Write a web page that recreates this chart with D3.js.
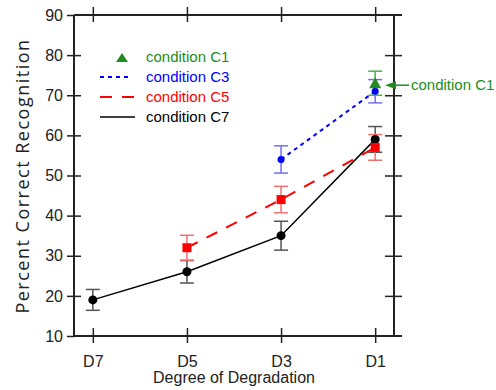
<!DOCTYPE html>
<html>
<head>
<meta charset="utf-8">
<script src="https://cdn.jsdelivr.net/npm/d3@7"></script>
<style>
  body { margin: 0; background: #fff; }
  svg { display: block; font-family: "Liberation Sans", Arial, sans-serif; }
</style>
</head>
<body>
<svg id="chart" width="496" height="390"></svg>
<script>
// degradation levels on the x axis
const levels = ['D7', 'D5', 'D3', 'D1'];
const yTicks = [10, 20, 30, 40, 50, 60, 70, 80, 90];

// mean percent correct and +/- error per condition
const c7Levels = ['D7', 'D5', 'D3', 'D1'];
const c7Values = [19, 26, 35, 59];
const c7Errors = [2.6, 2.8, 3.6, 3.2];

const c5Levels = ['D5', 'D3', 'D1'];
const c5Values = [32, 44, 57];
const c5Errors = [3.1, 3.3, 3.2];

const c3Levels = ['D3', 'D1'];
const c3Values = [54, 71];
const c3Errors = [3.4, 2.9];

const c1Levels = ['D1'];
const c1Values = [73];
const c1Errors = [3];

const legendLabels = ['condition C1', 'condition C3', 'condition C5', 'condition C7'];

const svg = d3.select('#chart');
const pLeft = 74, pRight = 394, pTop = 15, pBottom = 336;

const x = d3.scalePoint().domain(levels).range([pLeft, pRight]).padding(0.2);
const y = d3.scaleLinear().domain([10, 90]).range([pBottom, pTop]);

const toPoints = (lv, vals, errs) => lv.map((l, i) => ({ level: l, value: vals[i], err: errs[i] }));

const series = [
  { pts: toPoints(c7Levels, c7Values, c7Errors), color: '#000', errColor: '#555', dash: null, width: 1.5, marker: 'circle', r: 4.5 },
  { pts: toPoints(c5Levels, c5Values, c5Errors), color: '#ff0000', errColor: '#f07070', dash: '12,10', width: 2, marker: 'square', r: 4.5 },
  { pts: toPoints(c3Levels, c3Values, c3Errors), color: '#0000ff', errColor: '#7070ee', dash: '4,4', width: 2, marker: 'circle', r: 3.5 },
  { pts: toPoints(c1Levels, c1Values, c1Errors), color: '#228b22', errColor: '#4cae4c', dash: null, width: 0, marker: 'triangle', r: 5 }
];

// frame + crossing ticks
const axisColor = '#222';
const frame = svg.append('g').attr('stroke', axisColor).attr('stroke-width', 2).attr('fill', 'none');
frame.append('line').attr('x1', pLeft).attr('x2', pRight + 8).attr('y1', pTop).attr('y2', pTop);
frame.append('line').attr('x1', pLeft).attr('x2', pRight + 8).attr('y1', pBottom).attr('y2', pBottom);
frame.append('line').attr('x1', pLeft).attr('x2', pLeft).attr('y1', pTop).attr('y2', pBottom);
frame.append('line').attr('x1', pRight).attr('x2', pRight).attr('y1', pTop).attr('y2', pBottom);

const leftAxis = svg.append('g').attr('transform', `translate(${pLeft},0)`)
  .call(d3.axisLeft(y).tickValues(yTicks).tickSizeInner(7).tickSizeOuter(0).tickPadding(4));
leftAxis.selectAll('line').attr('x2', -7).attr('x1', (d) => (d === 10 || d === 90) ? 0 : 7);
const rightAxis = svg.append('g').attr('transform', `translate(${pRight},0)`)
  .call(d3.axisRight(y).tickValues(yTicks.slice(1, -1)).tickSizeOuter(0).tickFormat(''));
rightAxis.selectAll('line').attr('x1', -9).attr('x2', 8);
const bottomAxis = svg.append('g').attr('transform', `translate(0,${pBottom})`)
  .call(d3.axisBottom(x).tickSizeOuter(0).tickPadding(14));
bottomAxis.selectAll('line').attr('y1', -8).attr('y2', 7);
const topAxis = svg.append('g').attr('transform', `translate(0,${pTop})`)
  .call(d3.axisTop(x).tickSizeOuter(0).tickFormat(''));
topAxis.selectAll('line').attr('y1', 7).attr('y2', -8);

[leftAxis, rightAxis, bottomAxis, topAxis].forEach(a => {
  a.select('.domain').remove();
  a.selectAll('line').attr('stroke', axisColor).attr('stroke-width', 1.5);
  a.selectAll('text').attr('fill', '#222').style('font-size', '16px')
    .style('font-family', '"Liberation Sans", Arial, sans-serif');
});

// axis titles
svg.append('text')
  .attr('x', (pLeft + pRight) / 2).attr('y', 383)
  .attr('text-anchor', 'middle').attr('fill', '#222')
  .style('font-size', '16px')
  .text('Degree of Degradation');
svg.append('text')
  .attr('transform', 'translate(29,176) rotate(-90)')
  .attr('text-anchor', 'middle').attr('fill', '#222')
  .style('font-family', '"Open Sans", sans-serif').style('font-size', '18px')
  .style('letter-spacing', '1.5px')
  .text('Percent Correct Recognition');

// lines, error bars, markers
const line = d3.line().x(d => x(d.level)).y(d => y(d.value));
const cap = 7;
series.forEach(s => {
  if (s.width > 0 && s.pts.length > 1) {
    svg.append('path').datum(s.pts)
      .attr('d', line).attr('fill', 'none')
      .attr('stroke', s.color).attr('stroke-width', s.width)
      .attr('stroke-dasharray', s.dash);
  }
  const eb = svg.append('g').attr('stroke', s.errColor).attr('stroke-width', 1.5);
  s.pts.forEach(p => {
    const cx = x(p.level), y0 = y(p.value - p.err), y1 = y(p.value + p.err);
    eb.append('line').attr('x1', cx).attr('x2', cx).attr('y1', y0).attr('y2', y1);
    eb.append('line').attr('x1', cx - cap).attr('x2', cx + cap).attr('y1', y0).attr('y2', y0);
    eb.append('line').attr('x1', cx - cap).attr('x2', cx + cap).attr('y1', y1).attr('y2', y1);
  });
});
series.forEach(s => {
  s.pts.forEach(p => {
    const cx = x(p.level), cy = y(p.value);
    if (s.marker === 'circle') {
      svg.append('circle').attr('cx', cx).attr('cy', cy).attr('r', s.r).attr('fill', s.color);
    } else if (s.marker === 'square') {
      svg.append('rect').attr('x', cx - s.r).attr('y', cy - s.r)
        .attr('width', s.r * 2).attr('height', s.r * 2).attr('fill', s.color);
    } else {
      svg.append('path').attr('transform', `translate(${cx},${cy})`)
        .attr('d', `M0,${-s.r - 1}L${s.r + 1},${s.r}L${-s.r - 1},${s.r}Z`).attr('fill', s.color);
    }
  });
});

// legend
const legendColors = ['#228b22', '#0000ff', '#ff0000', '#000'];
const leg = svg.append('g');
legendLabels.forEach((label, i) => {
  const ly = 57 + i * 20;
  if (i === 0) {
    leg.append('path').attr('transform', `translate(122,${ly + 1})`)
      .attr('d', 'M0,-5L6,4L-6,4Z').attr('fill', legendColors[0]);
  } else {
    const dash = [null, '4,4', '12,10', null][i];
    leg.append('line').attr('x1', 100).attr('x2', i === 1 ? 131 : 135)
      .attr('y1', ly).attr('y2', ly)
      .attr('stroke', legendColors[i]).attr('stroke-width', i === 3 ? 1.5 : 2)
      .attr('stroke-dasharray', dash);
  }
  leg.append('text').attr('x', 146).attr('y', ly + 5)
    .attr('fill', legendColors[i]).style('font-size', '15px').text(label);
});

// annotation arrow for C1
const ay = y(c1Values[0]);
const ann = svg.append('g').attr('fill', '#228b22').attr('stroke', '#228b22');
ann.append('line').attr('x1', 394).attr('x2', 409).attr('y1', ay + 2).attr('y2', ay + 2).attr('stroke-width', 1.5);
ann.append('path').attr('d', `M385,${ay + 2}L396,${ay - 2}L396,${ay + 6}Z`).attr('stroke', 'none');
ann.append('text').attr('x', 411).attr('y', ay + 7).attr('stroke', 'none')
  .style('font-size', '15px').text('condition C1');
</script>
</body>
</html>
